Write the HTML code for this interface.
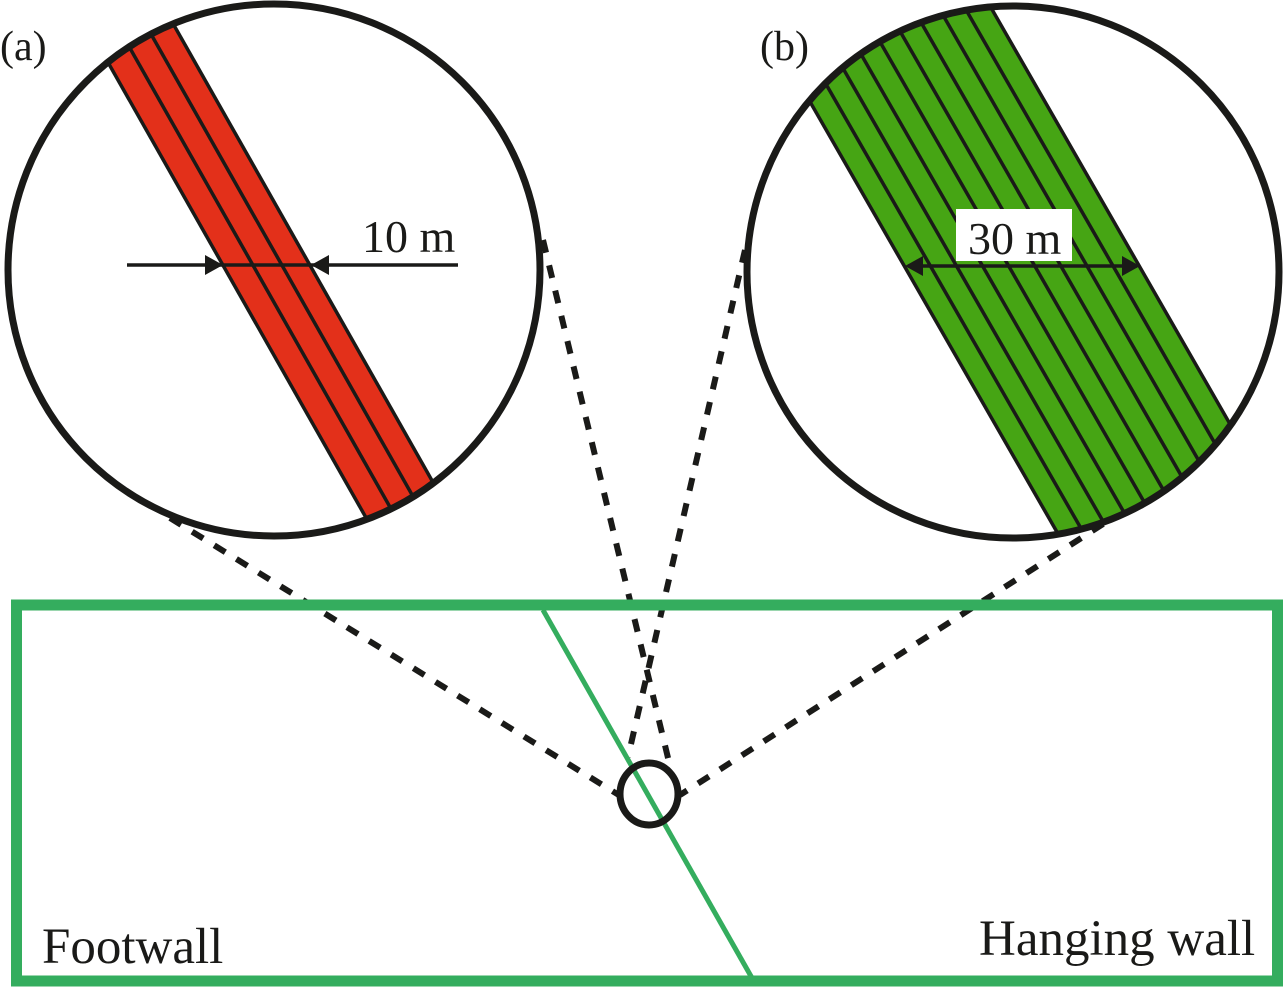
<!DOCTYPE html>
<html><head><meta charset="utf-8"><style>
html,body{margin:0;padding:0;background:#fff;}
svg{display:block;}
text{font-family:"Liberation Serif",serif;fill:#1a1a18;}
</style></head><body>
<svg width="1285" height="989" viewBox="0 0 1285 989" xmlns="http://www.w3.org/2000/svg">
<defs>
<clipPath id="ca"><circle cx="274" cy="270" r="266"/></clipPath>
<clipPath id="cb"><circle cx="1013" cy="272" r="266"/></clipPath>
</defs>

<!-- dashed connectors -->
<g stroke="#1a1a18" stroke-width="6" stroke-dasharray="13,13" fill="none">
<line x1="170" y1="518" x2="622" y2="797"/>
<line x1="543" y1="240" x2="669" y2="762"/>
<line x1="745" y1="250" x2="628" y2="757"/>
<line x1="1125" y1="510" x2="680" y2="795"/>
</g>

<!-- bottom block -->
<rect x="16.5" y="605" width="1261" height="376" fill="none" stroke="#34ad5e" stroke-width="11"/>
<line x1="543" y1="610" x2="752" y2="978" stroke="#34ad5e" stroke-width="5"/>
<ellipse cx="649" cy="794" rx="29" ry="31" fill="none" stroke="#1a1a18" stroke-width="7"/>
<text x="42" y="963" font-size="51">Footwall</text>
<text x="979" y="955" font-size="51">Hanging wall</text>

<!-- circle a -->
<circle cx="274" cy="270" r="266" fill="#fff"/>
<g clip-path="url(#ca)">
<polygon points="16,-100 103,-100 528,650 441,650" fill="#e3301a"/>
<g stroke="#1a1a18" stroke-width="3.5">
<line x1="16" y1="-100" x2="441" y2="650"/>
<line x1="46" y1="-100" x2="471" y2="650"/>
<line x1="75" y1="-100" x2="500" y2="650"/>
<line x1="103" y1="-100" x2="528" y2="650"/>
</g>
</g>
<circle cx="274" cy="270" r="266" fill="none" stroke="#1a1a18" stroke-width="7"/>
<line x1="127" y1="265" x2="458" y2="265" stroke="#1a1a18" stroke-width="3.5"/>
<polygon points="223,265 205,255 205,275" fill="#1a1a18"/>
<polygon points="311,265 329,255 329,275" fill="#1a1a18"/>
<text x="362" y="252" font-size="46">10 m</text>
<text x="0" y="60" font-size="42">(a)</text>

<!-- circle b -->
<circle cx="1013" cy="272" r="266" fill="#fff"/>
<g clip-path="url(#cb)">
<polygon points="694.2,-100 929.2,-100 1359.7,650 1124.7,650" fill="#46a514"/>
<g stroke="#1a1a18" stroke-width="3.5">
<line x1="694.2" y1="-100" x2="1124.7" y2="650"/>
<line x1="720.3" y1="-100" x2="1150.8" y2="650"/>
<line x1="746.4" y1="-100" x2="1176.9" y2="650"/>
<line x1="772.5" y1="-100" x2="1203.0" y2="650"/>
<line x1="798.6" y1="-100" x2="1229.1" y2="650"/>
<line x1="824.7" y1="-100" x2="1255.2" y2="650"/>
<line x1="850.8" y1="-100" x2="1281.3" y2="650"/>
<line x1="876.9" y1="-100" x2="1307.4" y2="650"/>
<line x1="903.0" y1="-100" x2="1333.5" y2="650"/>
<line x1="929.2" y1="-100" x2="1359.7" y2="650"/>
</g>
</g>
<circle cx="1013" cy="272" r="266" fill="none" stroke="#1a1a18" stroke-width="7"/>
<rect x="956" y="209" width="116" height="52" fill="#fff"/>
<text x="968" y="254" font-size="46">30 m</text>
<line x1="908" y1="266" x2="1137" y2="266" stroke="#1a1a18" stroke-width="3.5"/>
<polygon points="905,266 923,256 923,276" fill="#1a1a18"/>
<polygon points="1140,266 1122,256 1122,276" fill="#1a1a18"/>
<text x="760" y="60" font-size="42">(b)</text>
</svg>
</body></html>
